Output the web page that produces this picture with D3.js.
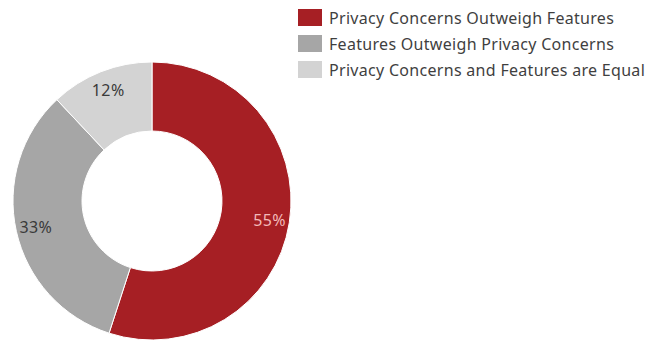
<!DOCTYPE html>
<html>
<head>
<meta charset="utf-8">
<script src="https://cdn.jsdelivr.net/npm/d3@7"></script>
<style>
  html, body { margin: 0; padding: 0; background: #fff; }
  svg { display: block; }
</style>
</head>
<body>
<svg id="chart" width="663" height="341"></svg>
<script>
// Survey result: privacy vs. features
const categories = [
  "Privacy Concerns Outweigh Features",
  "Features Outweigh Privacy Concerns",
  "Privacy Concerns and Features are Equal"
];
const values = [55, 33, 12];
const colors = ["#a61f24", "#a6a6a6", "#d3d3d3"];
const labelColors = ["#f2b9b9", "#3a3a3a", "#3a3a3a"];

const FONT = "'Noto Sans', 'Open Sans', sans-serif";

const svg = d3.select("#chart");
const cx = 152, cy = 201, outerR = 139, innerR = 70, labelR = 119;

const pie = d3.pie().sort(null).value(d => d)(values);
const arc = d3.arc().innerRadius(innerR).outerRadius(outerR);
const labelArc = d3.arc().innerRadius(labelR).outerRadius(labelR);

const g = svg.append("g").attr("transform", `translate(${cx},${cy})`);

g.selectAll("path.slice")
  .data(pie)
  .join("path")
  .attr("class", "slice")
  .attr("d", arc)
  .attr("fill", (d, i) => colors[i])
  .attr("stroke", "#fff")
  .attr("stroke-width", 1);

g.selectAll("text.pct")
  .data(pie)
  .join("text")
  .attr("class", "pct")
  .attr("transform", d => `translate(${labelArc.centroid(d)})`)
  .attr("text-anchor", "middle")
  .attr("dominant-baseline", "central")
  .attr("font-family", FONT)
  .attr("font-size", 16)
  .attr("letter-spacing", 0.4)
  .attr("fill", (d, i) => labelColors[i])
  .text(d => d.data + "%");

// Legend
const legend = svg.append("g").attr("transform", "translate(298,9)");
const rows = legend.selectAll("g.row")
  .data(categories)
  .join("g")
  .attr("class", "row")
  .attr("transform", (d, i) => `translate(0,${i * 26})`);

rows.append("rect")
  .attr("width", 24)
  .attr("height", 17)
  .attr("fill", (d, i) => colors[i]);

rows.append("text")
  .attr("x", 31)
  .attr("y", 9)
  .attr("dominant-baseline", "central")
  .attr("font-family", FONT)
  .attr("font-size", 16)
  .attr("letter-spacing", 0.3)
  .attr("fill", "#3f3f3f")
  .text(d => d);
</script>
</body>
</html>
